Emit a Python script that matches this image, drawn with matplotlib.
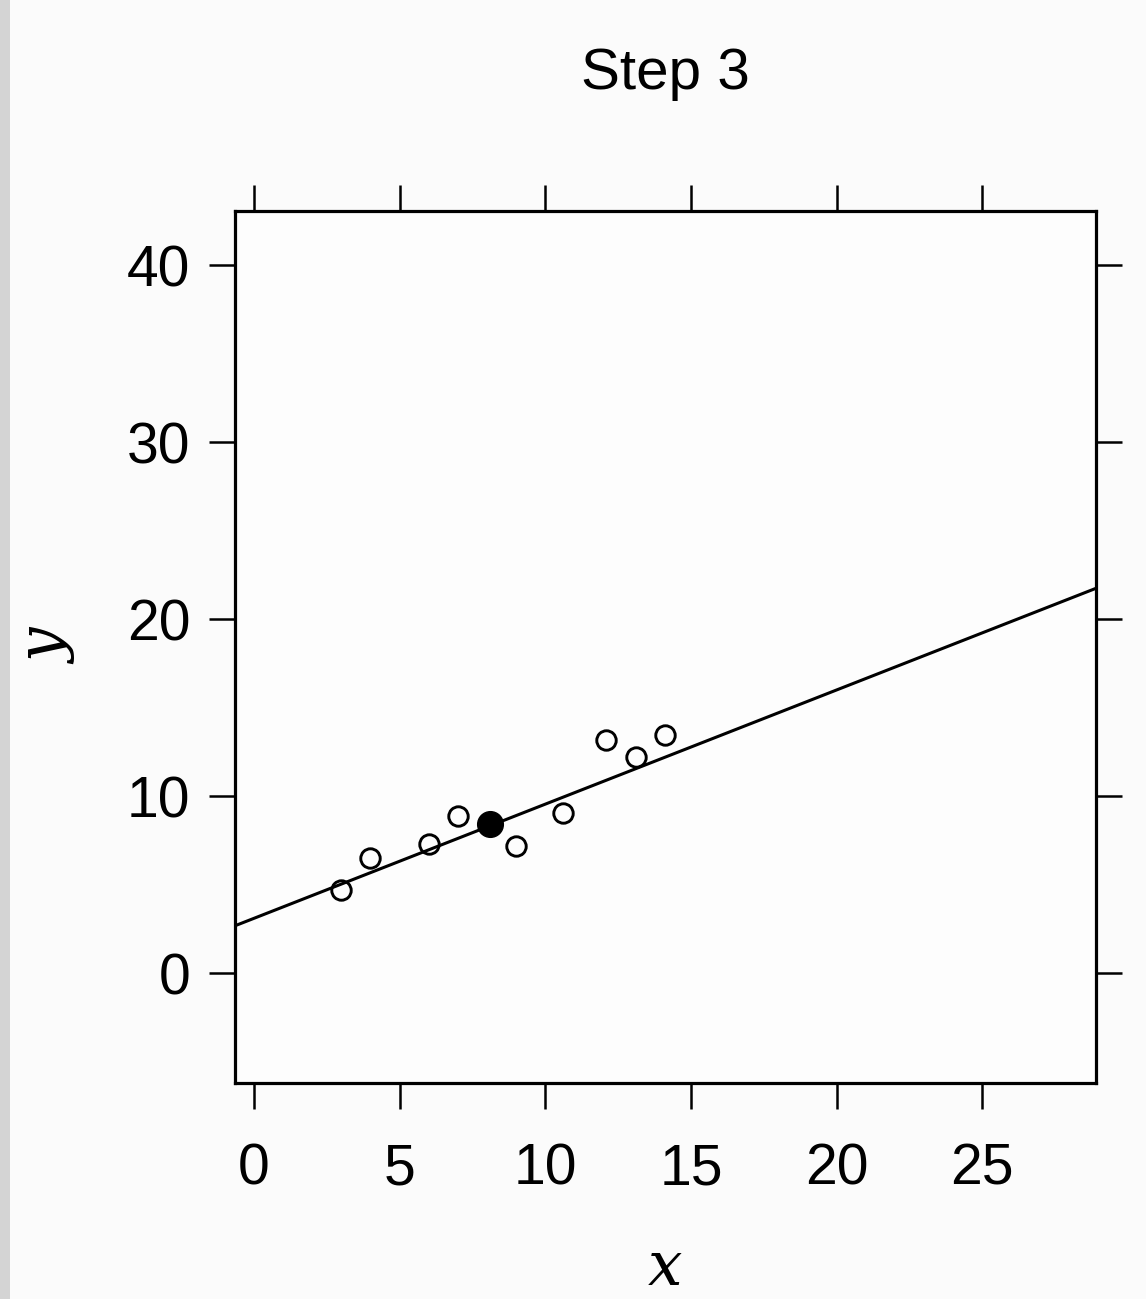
import matplotlib.pyplot as plt
from matplotlib.patches import Rectangle

# data
x_open = [3.0, 4.0, 6.0, 7.0, 9.0, 10.6, 12.1, 13.1, 14.1]
y_open = [4.7, 6.5, 7.3, 8.9, 7.2, 9.05, 13.2, 12.2, 13.45]
x_filled = [8.1]
y_filled = [8.45]
line_intercept = 3.1
line_slope = 0.645

x_ticks = [0, 5, 10, 15, 20, 25]
y_ticks = [0, 10, 20, 30, 40]

fig = plt.figure(figsize=(11.46, 12.99), dpi=100, facecolor='#fbfbfb')
# grey strip at the left edge of the scan
fig.patches.append(Rectangle((0, 0), 10 / 1146, 1, transform=fig.transFigure,
                             facecolor='#d4d4d4', edgecolor='none'))

ax = fig.add_axes([235 / 1146, 1 - 1083 / 1299, (1096 - 235) / 1146, (1083 - 211) / 1299])
ax.set_facecolor('#fdfdfd')

ax.axline((0, line_intercept), slope=line_slope, color='black', lw=2.2)
ax.plot(x_open, y_open, 'o', ms=14, mfc='none', mec='black', mew=2.1)
ax.plot(x_filled, y_filled, 'o', ms=18.5, mfc='black', mec='black')

ax.set_xlim(-0.65, 28.9)
ax.set_ylim(-6.2, 43.05)
ax.set_xticks(x_ticks)
ax.set_yticks(y_ticks)

for s in ax.spines.values():
    s.set_linewidth(2.3)

ax.tick_params(direction='out', length=19, width=1.8, top=True, right=True,
               labeltop=False, labelright=False)
ax.tick_params(axis='x', pad=24)
ax.tick_params(axis='y', pad=13)
for lab in ax.get_xticklabels() + ax.get_yticklabels():
    lab.set_family('Liberation Sans')
    lab.set_fontsize(41)

ax.set_title('Step 3', family='Liberation Sans', fontsize=42, pad=88)
ax.set_xlabel('x', family='DejaVu Serif', style='italic', fontsize=44, labelpad=30)
ax.set_ylabel('y', family='DejaVu Serif', style='italic', fontsize=44, labelpad=36)

fig.savefig('out.png', dpi=100, facecolor=fig.get_facecolor())
